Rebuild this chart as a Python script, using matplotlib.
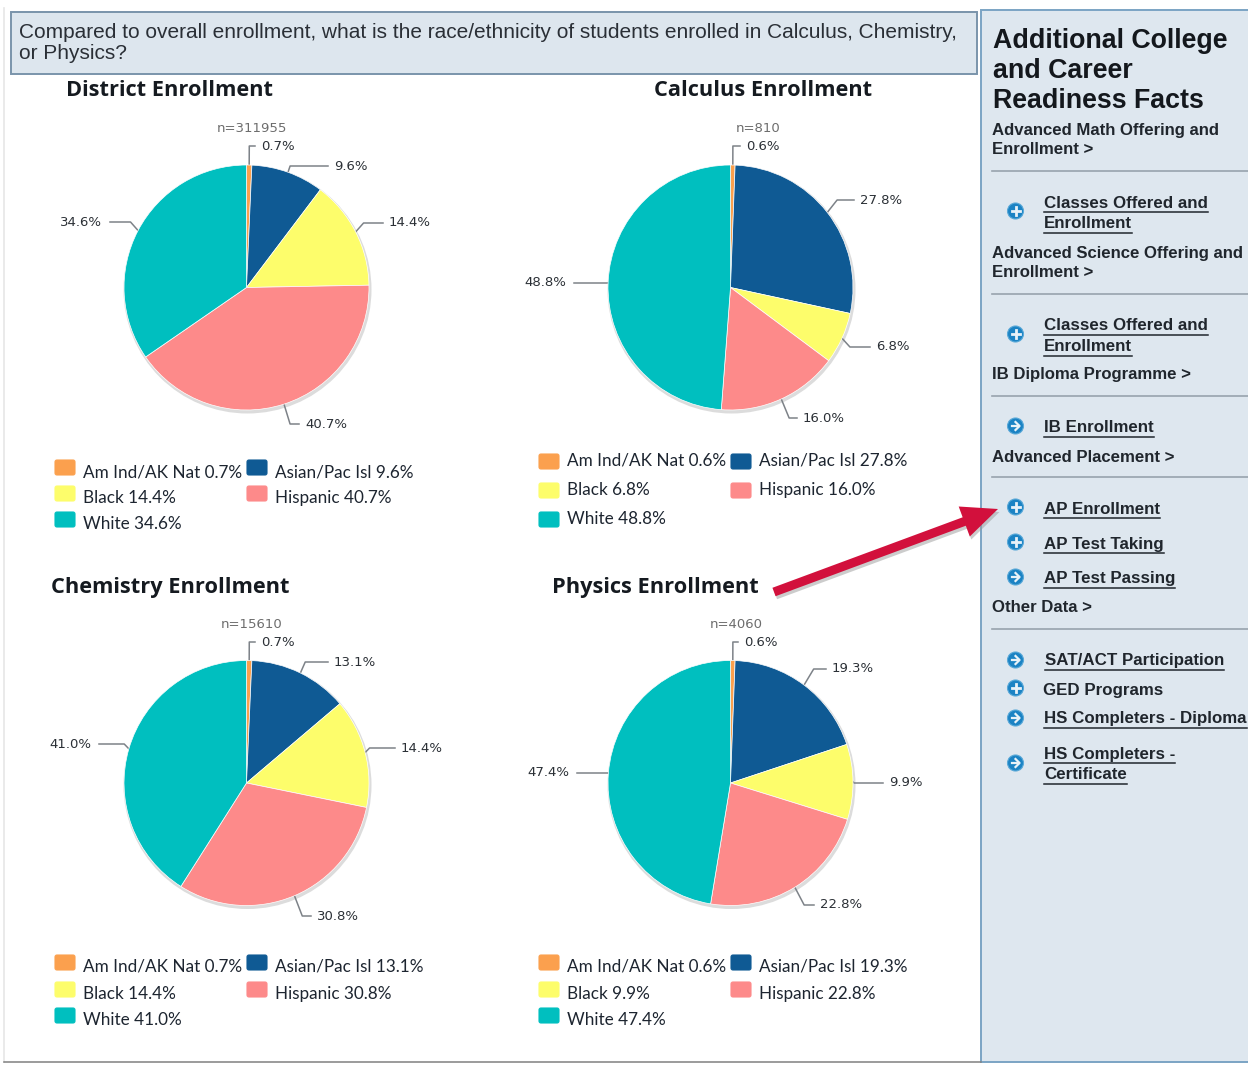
import matplotlib
matplotlib.use("Agg")
import numpy as np
import matplotlib.pyplot as plt
from matplotlib.patches import Rectangle, Circle, FancyBboxPatch, Polygon

W, H = 1248, 1074
categories = ["Am Ind/AK Nat", "Asian/Pac Isl", "Black", "Hispanic", "White"]
colors = ["#FBA04E", "#0F5A94", "#FDFD6B", "#FD8A8A", "#00BFBF"]
titles = ["District Enrollment", "Calculus Enrollment", "Chemistry Enrollment", "Physics Enrollment"]
counts = ["n=311955", "n=810", "n=15610", "n=4060"]
district = [0.7, 9.6, 14.4, 40.7, 34.6]
calculus = [0.6, 27.8, 6.8, 16.0, 48.8]
chemistry = [0.7, 13.1, 14.4, 30.8, 41.0]
physics = [0.6, 19.3, 9.9, 22.8, 47.4]
series = [district, calculus, chemistry, physics]

question = "Compared to overall enrollment, what is the race/ethnicity of students enrolled in Calculus, Chemistry,\nor Physics?"

FONT = "Lato"
SIDE = "Liberation Sans"
TXT = "#1d2530"
centers = [(246.5, 287.5), (730.5, 287.5), (246.5, 783), (730.5, 783)]
R = 122.5
title_xy = [(170, 91), (763, 91), (170, 587), (655, 587)]
count_xy = [(252, 128), (758, 128), (252, 624), (736, 624)]
label_xy = [
    [(261, 146), (334, 166), (389, 223), (305, 424), (102, 222)],
    [(746, 146), (860, 200), (876, 347), (803, 418), (566, 283)],
    [(261, 642), (334, 662), (401, 748), (317, 916), (91, 744)],
    [(744, 642), (832, 669), (889, 783), (820, 905), (569, 773)],
]
legend_x = [(54, 246), (538, 730), (54, 246), (538, 730)]
legend_text_dx = (29, 29)
legend_y = [(468, 494, 520), (462, 491, 520), (963, 990, 1016), (963, 990, 1016)]
legend_text_dy = [4, -1, 4, 4]

fig = plt.figure(figsize=(W / 100, H / 100), dpi=100, facecolor="white")
ov = fig.add_axes([0, 0, 1, 1], zorder=1)
ov.set_xlim(0, W)
ov.set_ylim(H, 0)
ov.axis("off")
top = fig.add_axes([0, 0, 1, 1], zorder=5)
top.set_xlim(0, W)
top.set_ylim(H, 0)
top.axis("off")
top.patch.set_alpha(0)

# page frame
ov.plot([4, 4], [8, 1062], color="#e6e6e6", lw=1.2)
ov.plot([4, 981], [1062, 1062], color="#808080", lw=1.1)
ov.add_patch(Rectangle((10.5, 11.5), 966, 62, fc="#DDE6EE", ec="#7A94AB", lw=1.4))
ov.add_patch(Rectangle((981, 10), 270, 1052, fc="#DEE7EF", ec="#7BA4C4", lw=1.4))
ov.text(19, 43, question, fontsize=15.0, family=SIDE, color="#2a2f36", va="center", linespacing=1.14)

for i, vals in enumerate(series):
    cx, cy = centers[i]
    ov.add_patch(Circle((cx + 1, cy + 2), R + 1.5, fc="#dcdcdc", ec="none"))
    size = 2.5 * R
    ax = fig.add_axes([(cx - size / 2) / W, 1 - (cy + size / 2) / H, size / W, size / H], zorder=2)
    ax.pie(vals, colors=colors, startangle=90, counterclock=False,
           wedgeprops=dict(edgecolor="white", linewidth=0.5))
    ax.patch.set_alpha(0)
    ov.text(*title_xy[i], titles[i], fontsize=15.7, family="Open Sans", weight="bold", color="#151a20", ha="center", va="center")
    ov.text(*count_xy[i], counts[i], fontsize=9.5, family="DejaVu Sans", color="#6d6d6d", ha="center", va="center")

    cum = 0.0
    total = sum(vals)
    for j, v in enumerate(vals):
        mid = (cum + v / 2) / total * 2 * np.pi
        cum += v
        sx, sy = cx + R * np.sin(mid), cy - R * np.cos(mid)
        lx, ly = label_xy[i][j]
        left = lx < cx
        ha = "right" if left else "left"
        endx = lx + 8 if left else lx - 6
        d = min(20, abs(ly - sy))
        ex = sx + d * np.sin(mid) * (1 if j else 0.2)
        ey = ly
        ov.plot([sx, ex, endx], [sy, ey, ly], color="#7d8288", lw=1.1, solid_joinstyle="round", zorder=3)
        ov.text(lx, ly, f"{v:.1f}%", fontsize=9.5, family="DejaVu Sans", color="#2b3036", ha=ha, va="center", zorder=4)

    slots = [(0, 0), (1, 0), (0, 1), (1, 1), (0, 2)]
    for j, (c, r) in enumerate(slots):
        x = legend_x[i][c]
        y = legend_y[i][r]
        ov.add_patch(FancyBboxPatch((x + 1, y - 8), 20, 15, boxstyle="round,pad=0,rounding_size=2",
                                    fc=colors[j], ec=colors[j], lw=0.8))
        ov.text(x + legend_text_dx[c], y + legend_text_dy[i], f"{categories[j]} {vals[j]:.1f}%", fontsize=12.3,
                family=FONT, color=TXT, va="center")

def arrow(dx, dy, col, zo, alpha=1.0):
    tail = np.array([774.0, 592.0])
    tip = np.array([998.0, 509.0])
    u = (tip - tail) / np.hypot(*(tip - tail))
    n = np.array([-u[1], u[0]])
    base = tip - 36 * u
    pts = [tail + 4.5 * n, base + 4.5 * n, base + 16 * n, tip, base - 16 * n, base - 4.5 * n, tail - 4.5 * n]
    pts = [p + np.array([dx, dy]) for p in pts]
    top.add_patch(Polygon(pts, closed=True, fc=col, ec="none", zorder=zo, alpha=alpha))
arrow(1.5, 3, "#9a9a9a", 6, 0.5)
arrow(0, 0, "#D2103C", 7)

top.text(993, 71, "Additional College\nand Career\nReadiness Facts", fontsize=19.3, family=SIDE, weight="bold",
         color="#14181d", va="center", linespacing=1.2)

def heading(y, s):
    top.text(992, y, s, fontsize=12.05, family=SIDE, weight="bold", color="#20262d", va="center", linespacing=1.3)

heading(140, "Advanced Math Offering and\nEnrollment >")
heading(263, "Advanced Science Offering and\nEnrollment >")
heading(375, "IB Diploma Programme >")
heading(457, "Advanced Placement >")
heading(608, "Other Data >")
for y in (171, 294, 396, 477, 629):
    top.plot([992, 1248], [y, y], color="#98a3ad", lw=1.2)

fig.canvas.draw()
rend = fig.canvas.get_renderer()

def link(x, y, s, underline=True):
    lines = s.split("\n")
    for k, line in enumerate(lines):
        yy = y + k * 20.5
        t = top.text(x, yy, line, fontsize=12.2, family=SIDE, weight="bold", color="#20262d", va="center")
        if underline:
            bb = t.get_window_extent(rend)
            top.plot([x, x + bb.width], [yy + 9, yy + 9], color="#20262d", lw=1.1)

def icon(y, kind):
    x = 1015.5
    top.add_patch(Circle((x, y), 8, fc="#1B83C4", ec="#5aa9d8", lw=0.8))
    if kind == "+":
        top.plot([x - 4, x + 4], [y, y], color="#e8f2f8", lw=2)
        top.plot([x, x], [y - 4, y + 4], color="#e8f2f8", lw=2)
    else:
        top.plot([x - 4, x + 3], [y, y], color="#e8f2f8", lw=1.6)
        top.plot([x, x + 4, x], [y - 4, y, y + 4], color="#e8f2f8", lw=1.6)

links = [
    (1044, 203, "Classes Offered and\nEnrollment", True, 211, "+"),
    (1044, 326, "Classes Offered and\nEnrollment", True, 334, "+"),
    (1044, 428, "IB Enrollment", True, 426, ">"),
    (1044, 509, "AP Enrollment", True, 507, "+"),
    (1044, 544, "AP Test Taking", True, 542, "+"),
    (1044, 579, "AP Test Passing", True, 577, ">"),
    (1045, 661, "SAT/ACT Participation", True, 660, ">"),
    (1043, 690, "GED Programs", False, 688, "+"),
    (1044, 719, "HS Completers - Diploma", True, 718, ">"),
    (1044, 754, "HS Completers -\nCertificate", True, 763, ">"),
]
for x, y, s, u, iy, k in links:
    link(x, y, s, u)
    icon(iy, k)

fig.savefig("out.png", dpi=100, facecolor="white")
